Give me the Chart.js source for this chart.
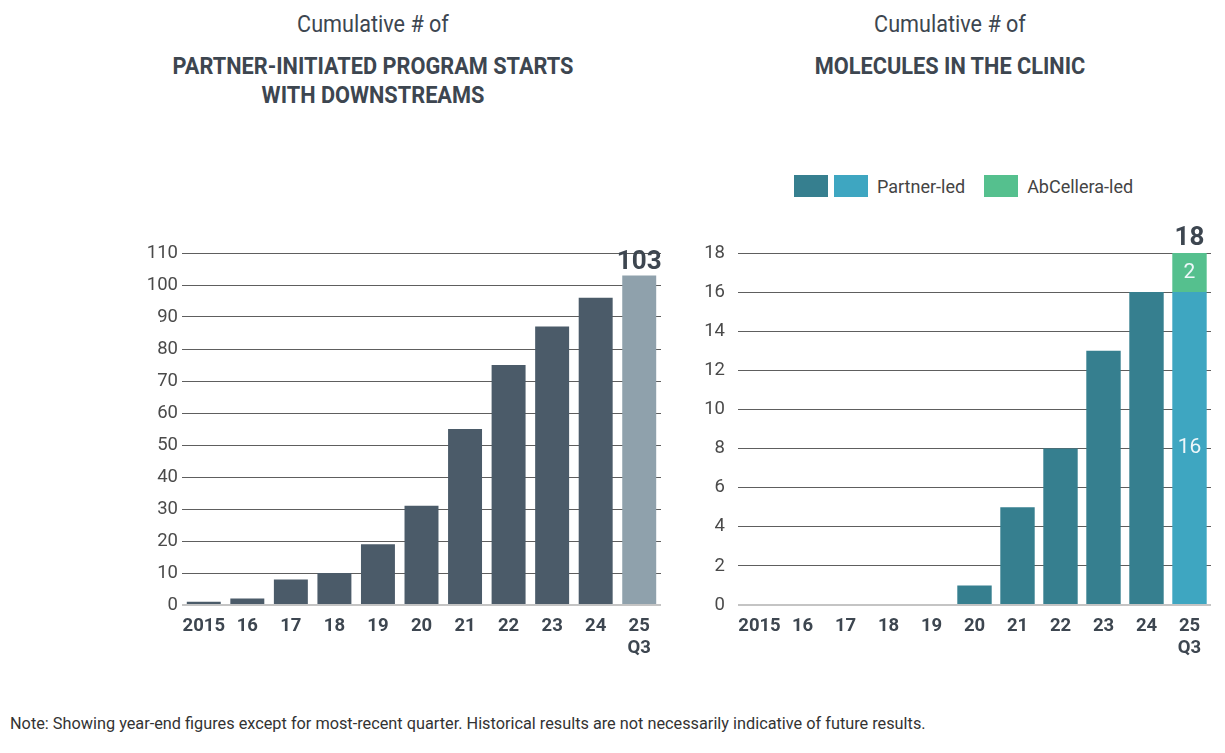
<!DOCTYPE html>
<html>
<head>
<meta charset="utf-8">
<script src="https://cdn.jsdelivr.net/npm/chart.js@4.4.1/dist/chart.umd.min.js"></script>
<style>
  body { margin: 0; width: 1225px; height: 753px; background: #fff; position: relative; overflow: hidden; font-family: Roboto, sans-serif; }
  .ttl { position: absolute; width: 500px; text-align: center; color: #3d4650; }
  .ttl .sub { font-size: 24px; font-weight: 400; line-height: 28px; transform: scaleX(0.9); }
  .ttl .main { font-size: 23px; font-weight: 700; line-height: 29px; margin-top: 14px; transform: scaleX(0.945); }
  .box { position: absolute; }
  #legend { position: absolute; left: 794px; top: 175px; display: flex; align-items: center; font-size: 18px; color: #444; }
  #legend .sw { width: 34px; height: 22px; margin-right: 6px; }
  #legend .lb { margin-left: 3px; margin-right: 19px; }
  #note { position: absolute; left: 10px; top: 714px; font-size: 16.3px; color: #333; }
</style>
</head>
<body>
<div class="ttl" style="left:123px; top:10px;">
  <div class="sub">Cumulative # of</div>
  <div class="main">PARTNER-INITIATED PROGRAM STARTS<br>WITH DOWNSTREAMS</div>
</div>
<div class="ttl" style="left:700px; top:10px;">
  <div class="sub">Cumulative # of</div>
  <div class="main">MOLECULES IN THE CLINIC</div>
</div>
<div id="legend"></div>
<div class="box" style="left:128px; top:210px; width:542px; height:460px;"><canvas id="left"></canvas></div>
<div class="box" style="left:690px; top:210px; width:530px; height:460px;"><canvas id="right"></canvas></div>
<div id="note">Note: Showing year-end figures except for most-recent quarter. Historical results are not necessarily indicative of future results.</div>
<script>
// categories shared by both charts
var years = ['2015', '16', '17', '18', '19', '20', '21', '22', '23', '24', ['25', 'Q3']];

// left chart: partner-initiated program starts with downstreams
var programStarts = [1, 2, 8, 10, 19, 31, 55, 75, 87, 96, 103];

// right chart: molecules in the clinic
var partnerLed = [0, 0, 0, 0, 0, 1, 5, 8, 13, 16, 16];
var abcelleraLed = [0, 0, 0, 0, 0, 0, 0, 0, 0, 0, 2];

var leftTicks = [0, 10, 20, 30, 40, 50, 60, 70, 80, 90, 100, 110];
var rightTicks = [0, 2, 4, 6, 8, 10, 12, 14, 16, 18];

var slate = '#4b5b69', slateLight = '#8fa1ac';
var teal = '#367f8f', tealLight = '#3ea6c1', green = '#55c08e';
var inkColor = '#3d4650';

// legend (two swatches share the Partner-led label)
var legendItems = [
  { colors: [teal, tealLight], text: 'Partner-led' },
  { colors: [green], text: 'AbCellera-led' }
];
var legend = document.getElementById('legend');
legendItems.forEach(function(item){
  item.colors.forEach(function(c){
    var s = document.createElement('div');
    s.className = 'sw';
    s.style.background = c;
    legend.appendChild(s);
  });
  var t = document.createElement('div');
  t.className = 'lb';
  t.textContent = item.text;
  legend.appendChild(t);
});

function lastColor(n, normal, last){
  var arr = [];
  for (var i = 0; i < n; i++) arr.push(i === n - 1 ? last : normal);
  return arr;
}

// draws total above the last bar, and segment values inside it when stacked
var lastBarLabels = {
  id: 'lastBarLabels',
  afterDatasetsDraw: function(chart, args, opts){
    var ctx = chart.ctx;
    var n = chart.data.labels.length - 1;
    var total = 0, topY = Infinity;
    ctx.save();
    ctx.textAlign = 'center';
    chart.data.datasets.forEach(function(ds, di){
      var v = ds.data[n];
      total += v;
      var el = chart.getDatasetMeta(di).data[n];
      if (!v) return;
      topY = Math.min(topY, el.y);
      if (opts.inside) {
        ctx.fillStyle = '#eef7fa';
        ctx.font = '400 21px Roboto';
        ctx.textBaseline = 'middle';
        ctx.fillText(String(v), el.x, (el.y + el.base) / 2);
      }
    });
    var lastEl = chart.getDatasetMeta(0).data[n];
    ctx.fillStyle = inkColor;
    ctx.font = '700 26px Roboto';
    ctx.textBaseline = 'alphabetic';
    ctx.fillText(String(total), lastEl.x, topY - opts.gap);
    ctx.restore();
  }
};

function yScale(ticks, pad, w){
  return {
    min: ticks[0],
    max: ticks[ticks.length - 1],
    afterBuildTicks: function(s){ s.ticks = ticks.map(function(v){ return { value: v }; }); },
    afterFit: function(s){ s.width = w; },
    border: { display: false },
    grid: {
      color: function(c){ return c.tick && c.tick.value === 0 ? '#c4c4c4' : '#5e5e5e'; },
      lineWidth: function(c){ return c.tick && c.tick.value === 0 ? 2 : 1; },
      drawTicks: false
    },
    ticks: { color: '#4a4a4a', font: { family: 'Roboto', size: 18.5 }, padding: pad }
  };
}

function xScale(){
  return {
    stacked: true,
    afterFit: function(s){ s.height = 65; },
    border: { display: false },
    grid: { display: false },
    ticks: { color: inkColor, font: { family: 'Roboto', size: 18.5, weight: '700', lineHeight: 1.2 }, padding: 2, maxRotation: 0, autoSkip: false }
  };
}

new Chart(document.getElementById('left').getContext('2d'), {
  type: 'bar',
  data: {
    labels: years,
    datasets: [{
      label: 'Program starts',
      data: programStarts,
      backgroundColor: lastColor(programStarts.length, slate, slateLight),
      categoryPercentage: 1,
      barPercentage: 0.78
    }]
  },
  options: {
    responsive: true,
    maintainAspectRatio: false,
    animation: false,
    layout: { padding: { top: 43, right: 9, bottom: 0, left: 0 } },
    plugins: { legend: { display: false }, tooltip: { enabled: false }, lastBarLabels: { inside: false, gap: 6 } },
    scales: { x: xScale(), y: yScale(leftTicks, 4, 54) }
  },
  plugins: [lastBarLabels]
});

new Chart(document.getElementById('right').getContext('2d'), {
  type: 'bar',
  data: {
    labels: years,
    datasets: [{
      label: 'Partner-led',
      data: partnerLed,
      backgroundColor: lastColor(partnerLed.length, teal, tealLight),
      categoryPercentage: 1,
      barPercentage: 0.8,
      stack: 's'
    }, {
      label: 'AbCellera-led',
      data: abcelleraLed,
      backgroundColor: green,
      categoryPercentage: 1,
      barPercentage: 0.8,
      stack: 's'
    }]
  },
  options: {
    responsive: true,
    maintainAspectRatio: false,
    animation: false,
    layout: { padding: { top: 43, right: 9, bottom: 0, left: 0 } },
    plugins: { legend: { display: false }, tooltip: { enabled: false }, lastBarLabels: { inside: true, gap: 8 } },
    scales: { x: xScale(), y: Object.assign(yScale(rightTicks, 13, 48), { stacked: true }) }
  },
  plugins: [lastBarLabels]
});
</script>
</body>
</html>
